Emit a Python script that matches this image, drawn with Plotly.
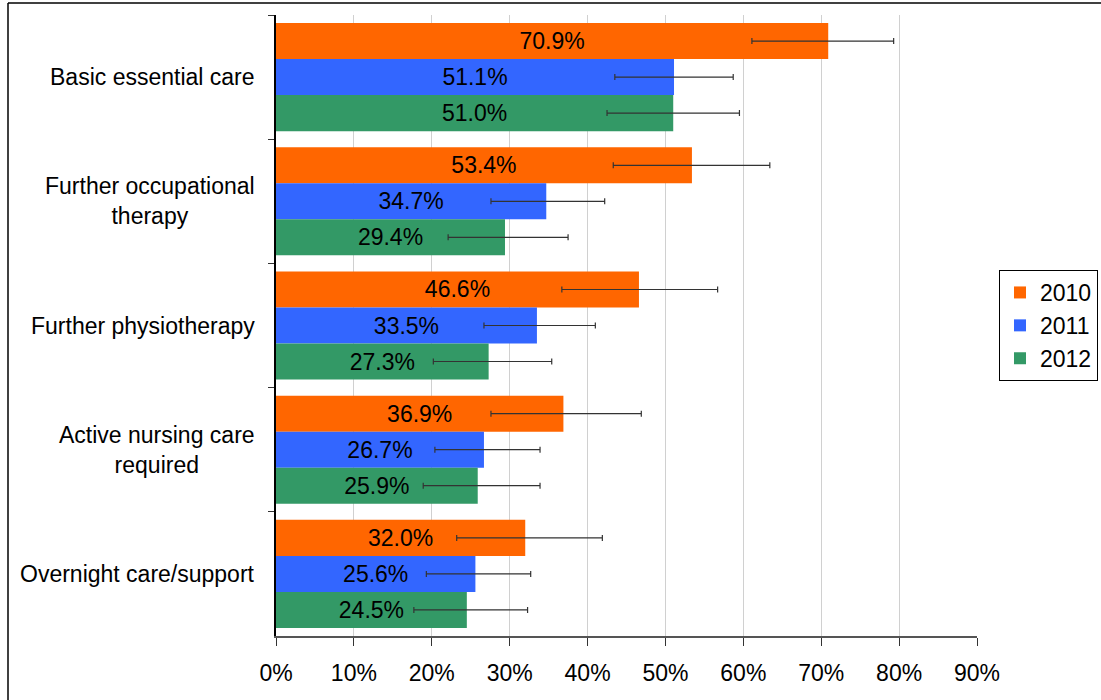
import plotly.graph_objects as go

categories = ["Basic essential care", "Further occupational<br>therapy", "Further physiotherapy",
              "Active nursing care<br>required", "Overnight care/support"]
years = ["2010", "2011", "2012"]
values_2010 = [70.9, 53.4, 46.6, 36.9, 32.0]
values_2011 = [51.1, 34.7, 33.5, 26.7, 25.6]
values_2012 = [51.0, 29.4, 27.3, 25.9, 24.5]
err_plus_2010 = [8.4, 10.0, 10.1, 10.0, 9.9]
err_minus_2010 = [9.8, 10.1, 9.9, 9.3, 8.8]
err_plus_2011 = [7.6, 7.5, 7.5, 7.2, 7.1]
err_minus_2011 = [7.6, 7.1, 6.8, 6.3, 6.3]
err_plus_2012 = [8.5, 8.1, 8.1, 8.0, 7.8]
err_minus_2012 = [8.5, 7.3, 7.1, 7.0, 6.8]
colors = ["#FF6600", "#3366FF", "#339966"]
x_ticks = [0, 10, 20, 30, 40, 50, 60, 70, 80, 90]

FONT = "Liberation Sans, Arial, sans-serif"
FS = 23

series = [
    (values_2010, err_plus_2010, err_minus_2010),
    (values_2011, err_plus_2011, err_minus_2011),
    (values_2012, err_plus_2012, err_minus_2012),
]

fig = go.Figure()
for name, (vals, ep, em), col in zip(years, series, colors):
    fig.add_trace(go.Bar(
        name=name, y=categories, x=vals, orientation="h",
        marker=dict(color=col, line=dict(width=0)),
        text=[f"{v:.1f}%" for v in vals], textposition="inside",
        insidetextanchor="middle", constraintext="none",
        textfont=dict(color="black", size=FS, family=FONT),
        error_x=dict(type="data", symmetric=False, array=ep, arrayminus=em,
                     color="#333333", thickness=1.2, width=3),
    ))

for cat in categories:
    fig.add_annotation(x=-0.027, xref="paper", y=cat, yref="y", text=cat,
                       showarrow=False, xanchor="right", align="center",
                       font=dict(size=FS, family=FONT, color="black"))

L, R, T, B = 276, 124, 15, 64
W = 1101 - L - R
H = 700 - T - B
fig.add_shape(type="line", xref="paper", yref="paper",
              x0=(8 - L) / W, x1=(8 - L) / W, y0=-1, y1=(700 - B - 3) / H,
              line=dict(color="black", width=1.5))
fig.add_shape(type="line", xref="paper", yref="paper",
              x0=(8 - L) / W, x1=2, y0=(700 - B - 3) / H, y1=(700 - B - 3) / H,
              line=dict(color="black", width=1.5))

fig.update_layout(
    width=1101, height=700,
    margin=dict(l=L, r=R, t=T, b=B, autoexpand=False),
    paper_bgcolor="white", plot_bgcolor="white",
    barmode="group", bargap=0.13, bargroupgap=0,
    font=dict(family=FONT, size=FS, color="black"),
    showlegend=True,
    legend=dict(x=1098 / 1101, xref="container", xanchor="right",
                y=0.5, yanchor="middle",
                bordercolor="black", borderwidth=1, bgcolor="white",
                font=dict(size=FS, family=FONT), traceorder="normal",
                itemwidth=30, tracegroupgap=0),
    xaxis=dict(range=[0, 90], tickvals=x_ticks, ticktext=[f"{t}%" for t in x_ticks],
               showgrid=True, gridcolor="#d0d0d0", gridwidth=1,
               showline=True, linecolor="#555555", linewidth=1.5,
               ticks="outside", ticklen=8, tickcolor="#333333",
               ticklabelstandoff=8,
               zeroline=False, tickfont=dict(size=FS, family=FONT)),
    yaxis=dict(autorange="reversed", showticklabels=False,
               showline=True, linecolor="black", linewidth=1.5,
               ticks="outside", ticklen=6, tickcolor="#333333", tickson="boundaries",
               showgrid=False),
)

fig.write_html("out.html", config={"displayModeBar": False},
               post_script="document.body.style.margin='0';document.body.style.overflow='hidden';")
